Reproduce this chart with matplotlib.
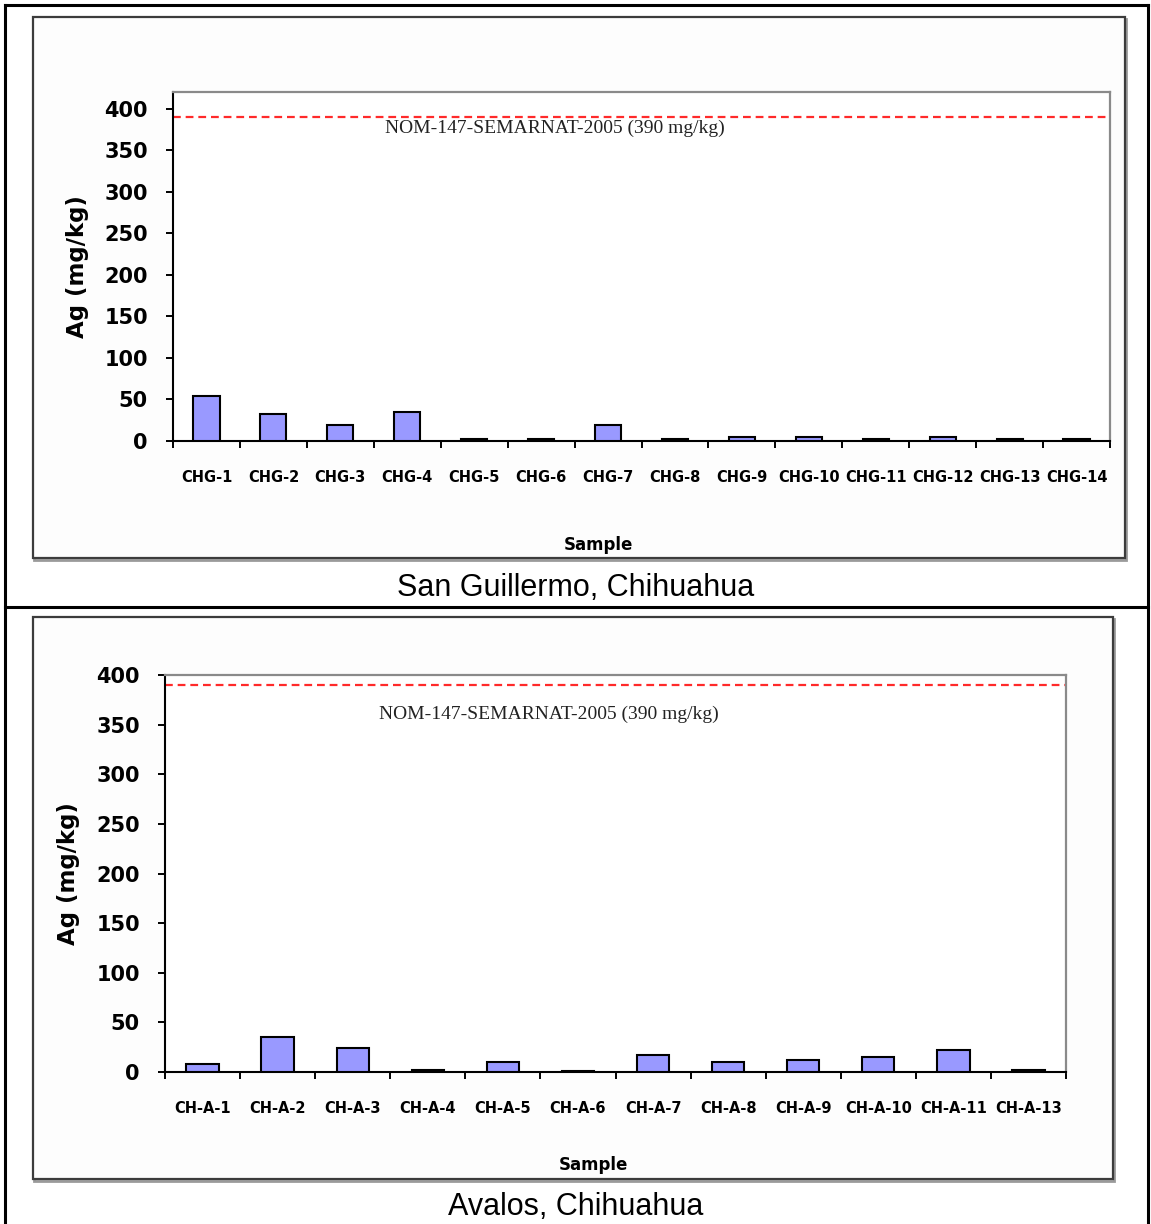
import matplotlib
matplotlib.use("Agg")
import matplotlib.pyplot as plt
from matplotlib.patches import Rectangle
import numpy as np

# Ag content per sample, two mining sites
sg_samples = ["CHG-1", "CHG-2", "CHG-3", "CHG-4", "CHG-5", "CHG-6", "CHG-7",
              "CHG-8", "CHG-9", "CHG-10", "CHG-11", "CHG-12", "CHG-13", "CHG-14"]
sg_ag = [54, 32, 19, 35, 2, 2, 19, 2, 5, 5, 2, 5, 2, 2]

av_samples = ["CH-A-1", "CH-A-2", "CH-A-3", "CH-A-4", "CH-A-5", "CH-A-6",
              "CH-A-7", "CH-A-8", "CH-A-9", "CH-A-10", "CH-A-11", "CH-A-13"]
av_ag = [8.5, 35, 24, 2, 10, 1, 17.5, 10, 12, 15, 22, 2]

limit_value = 390
limit_label = "NOM-147-SEMARNAT-2005 (390 mg/kg)"
yticks = [0, 50, 100, 150, 200, 250, 300, 350, 400]

W, H = 1151, 1224
fig = plt.figure(figsize=(W / 100, H / 100), dpi=100)
fig.patch.set_facecolor("white")

# background layer in pixel units for the table and chart frames
bg = fig.add_axes([0, 0, 1, 1])
bg.set_xlim(0, W)
bg.set_ylim(H, 0)
bg.axis("off")

# table lines
bg.plot([5, 5], [5, H], color="black", lw=2.2)
bg.plot([1148, 1148], [5, H], color="black", lw=2.2)
bg.plot([5, 1148], [5, 5], color="black", lw=2.2)
bg.plot([5, 1148], [607, 607], color="black", lw=2.2)

# chart frames (with a slight shadow)
for x0, y0, x1, y1 in [(33, 17, 1125, 558), (33, 617, 1113, 1179)]:
    bg.add_patch(Rectangle((x0 + 1.5, y0 + 1.5), x1 - x0, y1 - y0,
                           facecolor="none", edgecolor="#9a9a9a", lw=2))
    bg.add_patch(Rectangle((x0, y0), x1 - x0, y1 - y0,
                           facecolor="#fdfdfd", edgecolor="#3c3c3c", lw=1.6))

bg.text(576, 588, "San Guillermo, Chihuahua", ha="center", va="center",
        fontsize=22, family="Liberation Sans")
bg.text(576, 1207, "Avalos, Chihuahua", ha="center", va="center",
        fontsize=22, family="Liberation Sans")


def px_axes(left, top, right, bottom):
    return fig.add_axes([left / W, 1 - bottom / H, (right - left) / W, (bottom - top) / H])


def draw_panel(ax, samples, values, ymax, bar_w, txt_pos, ylab_x, xlab_pos):
    x = np.arange(len(samples))
    ax.set_facecolor("white")
    ax.bar(x, values, width=bar_w, color="#9999ff", edgecolor="black",
           linewidth=1.5, zorder=3)
    ax.axhline(limit_value, color="#ff2a2a", lw=1.6, ls=(0, (3.5, 2.2)), zorder=2)
    ax.text(txt_pos[0], txt_pos[1], limit_label, transform=ax.transAxes,
            ha="center", va="center", fontsize=14, family="Liberation Serif",
            color="#222222")

    ax.set_xlim(-0.5, len(samples) - 0.5)
    ax.set_ylim(0, ymax)

    ax.set_yticks(yticks)
    ax.set_yticklabels([str(t) for t in yticks])
    ax.set_xticks(x)
    ax.set_xticklabels(samples)
    ax.set_xticks(np.arange(len(samples) + 1) - 0.5, minor=True)
    ax.tick_params(axis="x", which="major", length=0, pad=21,
                   labelsize=10.5)
    ax.tick_params(axis="x", which="minor", length=5, width=1.4, direction="out")
    ax.tick_params(axis="y", length=5, width=1.4, direction="out", pad=13,
                   labelsize=15)
    for lab in ax.get_xticklabels() + ax.get_yticklabels():
        lab.set_fontweight("bold")
        lab.set_family("DejaVu Sans")

    for side in ["top", "right"]:
        ax.spines[side].set_color("#8a8a8a")
        ax.spines[side].set_linewidth(1.6)
    for side in ["left", "bottom"]:
        ax.spines[side].set_color("black")
        ax.spines[side].set_linewidth(1.5)

    ax.set_ylabel("Ag (mg/kg)", fontsize=16.5, fontweight="bold", family="DejaVu Sans")
    ax.yaxis.set_label_coords(ylab_x, 0.5)
    ax.set_xlabel("Sample", fontsize=12, fontweight="bold", family="DejaVu Sans")
    ax.xaxis.set_label_coords(xlab_pos[0], xlab_pos[1])


ax1 = px_axes(173, 92, 1110, 441)
draw_panel(ax1, sg_samples, sg_ag, 420, 0.39, (0.408, 0.895), -0.090, (0.454, -0.272))

ax2 = px_axes(165, 675, 1066, 1072)
draw_panel(ax2, av_samples, av_ag, 400, 0.43, (0.426, 0.90), -0.094, (0.475, -0.212))

fig.savefig("out.png", dpi=100, facecolor="white")
